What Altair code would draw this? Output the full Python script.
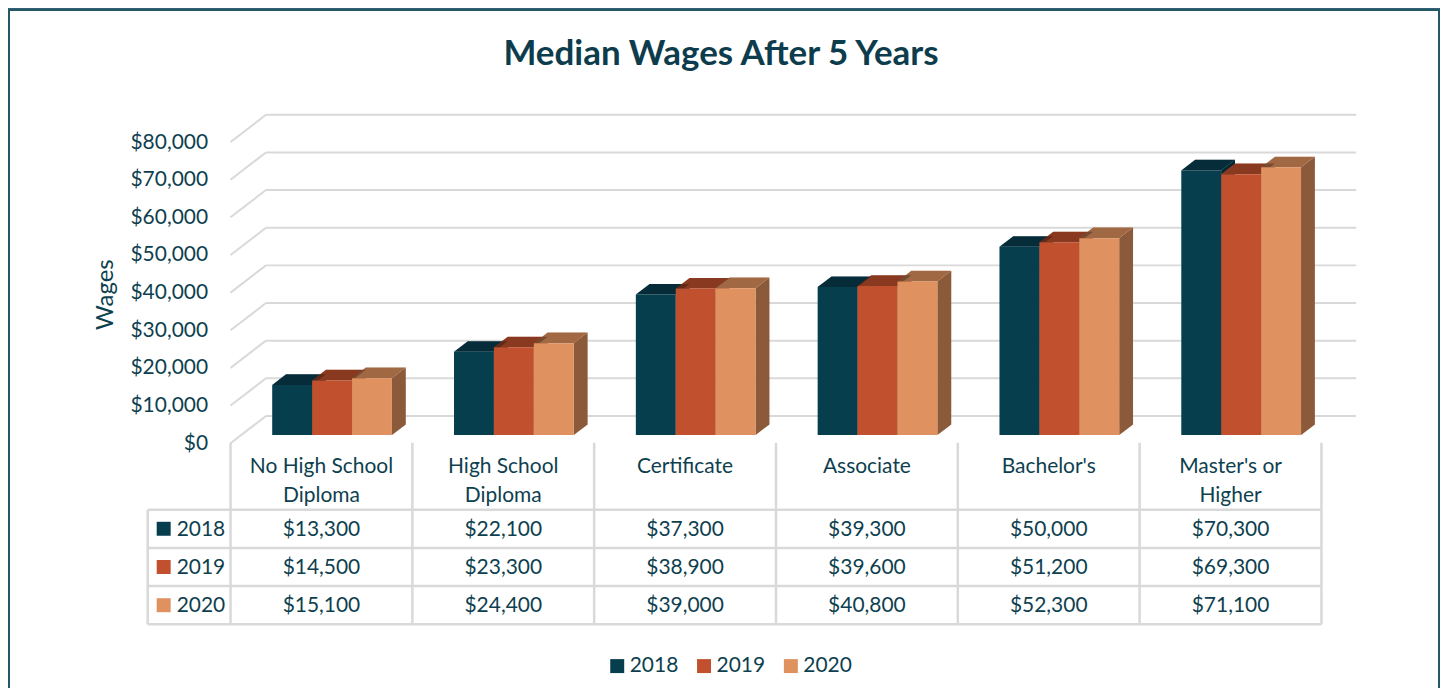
import altair as alt
import pandas as pd

# ---------------- data ----------------
CATEGORIES = ["No High School Diploma", "High School Diploma", "Certificate",
              "Associate", "Bachelor's", "Master's or Higher"]
CATEGORY_LABELS = ["No High School\nDiploma", "High School\nDiploma", "Certificate",
                   "Associate", "Bachelor's", "Master's or\nHigher"]
YEARS = ["2018", "2019", "2020"]
WAGES_2018 = [13300, 22100, 37300, 39300, 50000, 70300]
WAGES_2019 = [14500, 23300, 38900, 39600, 51200, 69300]
WAGES_2020 = [15100, 24400, 39000, 40800, 52300, 71100]
Y_TICKS = [0, 10000, 20000, 30000, 40000, 50000, 60000, 70000, 80000]
COLORS = ["#073e4e", "#c0502e", "#df915f"]

TITLE = "Median Wages After 5 Years"
Y_TITLE = "Wages"

# ---------------- layout / style ----------------
TEXT = "#0e3f4f"
GRID = "#d9d9d9"
FRAME = "#245868"
FONT = "Lato"

PLOT_W, PLOT_H = 1211, 530
COL_PX = 182.2                 # width of one category column
KEY_COL_PX = 83                # width of the legend-key column of the table
X_MIN = -KEY_COL_PX / COL_PX
X_MAX = X_MIN + PLOT_W / COL_PX

PX_PER_DOLLAR = 37.725 / 10000
ZERO_FROM_TOP = 343.4
Y_DOMAIN = [-(PLOT_H - ZERO_FROM_TOP) / PX_PER_DOLLAR, ZERO_FROM_TOP / PX_PER_DOLLAR]

DX = 35.5 / COL_PX             # full depth, x shift (category units)
DY = 27.3 / PX_PER_DOLLAR      # full depth, y shift (dollars)
BAR_FRONT, BAR_BACK = 0.3, 0.69
BAR_W = 40 / COL_PX

ROW_PX = 38.3
HEADER_PX = 67
TABLE_TOP_FROM_TOP = 343
ROW0_FROM_TOP = TABLE_TOP_FROM_TOP + HEADER_PX
T_DOMAIN = [-ROW0_FROM_TOP / ROW_PX, (PLOT_H - ROW0_FROM_TOP) / ROW_PX]
HEADER_TOP = -HEADER_PX / ROW_PX
HEADER_BASE = -36.5 / ROW_PX
VALUE_BASE = 26 / ROW_PX
KEY_SQ_X = (16 - KEY_COL_PX) / COL_PX
KEY_LBL_X = (29 - KEY_COL_PX) / COL_PX

xscale = alt.Scale(domain=[X_MIN, X_MAX], nice=False, zero=False)
yscale = alt.Scale(domain=Y_DOMAIN, nice=False, zero=False)
tscale = alt.Scale(domain=T_DOMAIN, nice=False, zero=False, reverse=True)
cscale = alt.Scale(domain=YEARS, range=COLORS)

yaxis = alt.Axis(values=Y_TICKS, format="$,.0f", grid=False, ticks=False, domain=False,
                 offset=-KEY_COL_PX, labelPadding=23, labelFont=FONT, labelFontSize=21,
                 labelColor=TEXT, title=Y_TITLE, titleFont=FONT, titleFontSize=24,
                 titleFontWeight="normal", titleColor=TEXT, titleAngle=270,
                 titleX=-125, titleY=194, titleAlign="center", titleBaseline="middle")


def X(f):
    return alt.X(f, type="quantitative", scale=xscale, axis=None)


def Y(f, **kw):
    return alt.Y(f, type="quantitative", scale=yscale, axis=yaxis, title=Y_TITLE, **kw)


def T(f):
    return alt.Y(f, type="quantitative", scale=tscale, axis=None)


# ---------------- derived tables ----------------
series = [WAGES_2018, WAGES_2019, WAGES_2020]
fronts, tops, sides = [], [], []
for i, cat in enumerate(CATEGORIES):
    for j, yr in enumerate(YEARS):
        v = series[j][i]
        x0 = i + 0.5 + (j - 1.5) * BAR_W
        bid = f"{i}-{j}"
        fronts.append(dict(bar=bid, year=yr, category=cat,
                           xf0=x0 + BAR_FRONT * DX, xf1=x0 + BAR_W + BAR_FRONT * DX,
                           yb=BAR_FRONT * DY, yt=v + BAR_FRONT * DY))
        for d in (BAR_FRONT, BAR_BACK):
            tops.append(dict(bar=bid, year=yr, ty=v + d * DY,
                             tx0=x0 + d * DX, tx1=x0 + BAR_W + d * DX))
            sides.append(dict(bar=bid, year=yr, sx=x0 + BAR_W + d * DX,
                              sy0=d * DY, sy1=v + d * DY))
fronts = pd.DataFrame(fronts)
tops = pd.DataFrame(tops)
sides = pd.DataFrame(sides)

grid = pd.DataFrame([dict(v=t, xa=0.0, xb=DX, xe=X_MAX, vb=t + DY) for t in Y_TICKS])

# ---------------- chart layers (dollar scale) ----------------
front_grid = alt.Chart(grid).mark_rule(color=GRID, strokeWidth=2).encode(
    x=X("xa"), x2="xb", y=Y("v"), y2="vb")
back_grid = alt.Chart(grid).mark_rule(color=GRID, strokeWidth=2).encode(
    x=X("xb"), x2="xe", y=Y("vb"))

color = alt.Color("year:N", scale=cscale,
                  legend=alt.Legend(orient="none", direction="horizontal", legendX=460,
                                    legendY=556, title=None, symbolType="square",
                                    symbolSize=196, symbolStrokeWidth=0, labelFont=FONT,
                                    labelFontSize=21, labelColor=TEXT, labelOffset=2,
                                    columnPadding=15))

side_c = alt.Chart(sides).mark_area(orient="vertical").encode(
    x=X("sx"), y=Y("sy0", stack=None), y2="sy1", color=color, detail="bar:N")
side_d = alt.Chart(sides).mark_area(orient="vertical", color="black", opacity=0.38).encode(
    x=X("sx"), y=Y("sy0", stack=None), y2="sy1", detail="bar:N")
top_c = alt.Chart(tops).mark_area(orient="horizontal").encode(
    y=Y("ty"), x=alt.X("tx0", type="quantitative", scale=xscale, axis=None, stack=None),
    x2="tx1", color=color, detail="bar:N")
top_d = alt.Chart(tops).mark_area(orient="horizontal", color="black", opacity=0.28).encode(
    y=Y("ty"), x=alt.X("tx0", type="quantitative", scale=xscale, axis=None, stack=None),
    x2="tx1", detail="bar:N")
front = alt.Chart(fronts).mark_rect(strokeWidth=0).encode(
    x=X("xf0"), x2="xf1", y=Y("yb"), y2="yt", color=color,
    tooltip=["category:N", "year:N"])

frame_left = alt.Chart(grid).mark_rule(color=FRAME, strokeWidth=2).encode(
    x=alt.value(-139), y=alt.value(-91), y2=alt.value(PLOT_H + 60))
frame_top = alt.Chart(grid).mark_rule(color=FRAME, strokeWidth=2).encode(
    x=alt.value(-140), x2=alt.value(1295), y=alt.value(-91))
frame_right = alt.Chart(grid).mark_rule(color=FRAME, strokeWidth=2).encode(
    x=alt.value(1294), y=alt.value(-91), y2=alt.value(PLOT_H + 60))

bars_group = alt.layer(front_grid, back_grid, side_c, side_d, top_c, top_d, front,
                       frame_left, frame_top, frame_right)

# ---------------- data table (row scale) ----------------
vlines = pd.DataFrame([dict(x=float(k), y0=HEADER_TOP, y1=3.0) for k in range(len(CATEGORIES) + 1)]
                      + [dict(x=X_MIN, y0=0.0, y1=3.0)])
hlines = pd.DataFrame([dict(y=float(r), x0=X_MIN, x1=float(len(CATEGORIES))) for r in range(len(YEARS) + 1)])
headers = pd.DataFrame([dict(x=i + 0.5, y=HEADER_BASE, label=lab) for i, lab in enumerate(CATEGORY_LABELS)])
cells = pd.DataFrame([dict(x=i + 0.5, y=r + VALUE_BASE, value=series[r][i], year=yr)
                      for r, yr in enumerate(YEARS) for i in range(len(CATEGORIES))])
keys = pd.DataFrame([dict(xs=KEY_SQ_X, xl=KEY_LBL_X, ys=r + 0.5, yl=r + VALUE_BASE, year=yr)
                     for r, yr in enumerate(YEARS)])

t_v = alt.Chart(vlines).mark_rule(color=GRID, strokeWidth=2.5).encode(x=X("x"), y=T("y0"), y2="y1")
t_h = alt.Chart(hlines).mark_rule(color=GRID, strokeWidth=2.5).encode(x=X("x0"), x2="x1", y=T("y"))
t_head = alt.Chart(headers).mark_text(lineBreak="\n", align="center", baseline="alphabetic",
                                      font=FONT, fontSize=21, lineHeight=29, color=TEXT).encode(
    x=X("x"), y=T("y"), text="label:N")
t_cells = alt.Chart(cells).mark_text(align="center", baseline="alphabetic", font=FONT,
                                     fontSize=21, color=TEXT).encode(
    x=X("x"), y=T("y"), text=alt.Text("value:Q", format="$,.0f"))
t_keys = alt.Chart(keys).mark_point(shape="square", filled=True, size=196, opacity=1,
                                    strokeWidth=0).encode(
    x=X("xs"), y=T("ys"), color=color)
t_keylab = alt.Chart(keys).mark_text(align="left", baseline="alphabetic", font=FONT,
                                     fontSize=21, color=TEXT).encode(
    x=X("xl"), y=T("yl"), text="year:N")

table_group = alt.layer(t_v, t_h, t_head, t_cells, t_keys, t_keylab)

chart = alt.layer(bars_group, table_group).resolve_scale(y="independent").properties(
    width=PLOT_W, height=PLOT_H,
    background="white",
    autosize=alt.AutoSizeParams(type="none"),
    padding={"left": 140, "top": 92, "right": 84, "bottom": 58},
    title=alt.TitleParams(TITLE, font=FONT, fontSize=35, fontWeight="bold", color="#0d3d4d",
                          anchor="middle", frame="group", dx=-31, offset=-63),
).configure_view(strokeOpacity=0, strokeWidth=0)

chart.save("out.html", embed_options={"renderer": "svg", "actions": False})
